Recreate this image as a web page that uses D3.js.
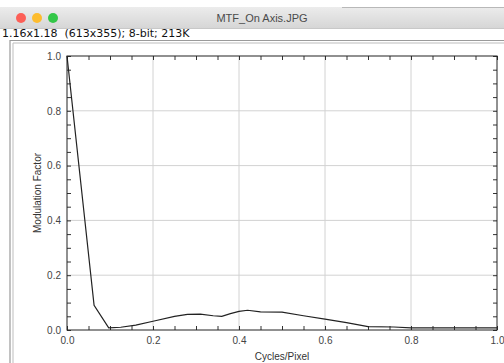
<!DOCTYPE html>
<html>
<head>
<meta charset="utf-8">
<script src="https://cdn.jsdelivr.net/npm/d3@7"></script>
<style>
  body { margin: 0; background: #fff; }
  svg { display: block; font-family: "Liberation Sans", Arial, sans-serif; }
</style>
</head>
<body>
<svg id="chart" width="504" height="363"></svg>
<script>
// MTF curve
const freq = [0, 0.063, 0.097, 0.125, 0.16, 0.2, 0.25, 0.28, 0.31, 0.34, 0.36, 0.38, 0.4, 0.42, 0.45, 0.5, 0.55, 0.6, 0.65, 0.7, 0.76, 0.8, 0.9, 1.0];
const mtf = [1.0, 0.09, 0.008, 0.01, 0.018, 0.032, 0.05, 0.057, 0.058, 0.052, 0.05, 0.06, 0.068, 0.072, 0.066, 0.065, 0.052, 0.04, 0.027, 0.012, 0.011, 0.008, 0.008, 0.008];
const majorTicks = [0, 0.2, 0.4, 0.6, 0.8, 1.0];
const gridTicks = [0.2, 0.4, 0.6, 0.8];
const minorTicks = d3.range(0, 1.0001, 0.05);
const windowTitle = "MTF_On Axis.JPG";
const infoLine = "1.16x1.18  (613x355); 8-bit; 213K";
const xTitle = "Cycles/Pixel";
const yTitle = "Modulation Factor";

const svg = d3.select("#chart");
const W = 504, H = 363;

// --- window chrome ---
const defs = svg.append("defs");
const grad = defs.append("linearGradient").attr("id", "bar").attr("x1", 0).attr("y1", 0).attr("x2", 0).attr("y2", 1);
grad.append("stop").attr("offset", "0%").attr("stop-color", "#ececec");
grad.append("stop").attr("offset", "100%").attr("stop-color", "#d6d6d6");

svg.append("rect").attr("x", 0).attr("y", 7).attr("width", W).attr("height", 21).attr("fill", "url(#bar)");
svg.append("line").attr("x1", 342).attr("x2", W).attr("y1", 7.5).attr("y2", 7.5).attr("stroke", "#b8b8b8");
svg.append("line").attr("x1", 0).attr("x2", W).attr("y1", 28.5).attr("y2", 28.5).attr("stroke", "#c8c8c8");

const lights = ["#fc5f57", "#fdbc2e", "#33c748"];
svg.selectAll("circle.light").data(lights).enter().append("circle")
    .attr("class", "light")
    .attr("cx", (d, i) => 21 + i * 16)
    .attr("cy", 18)
    .attr("r", 5)
    .attr("fill", d => d);

svg.append("text").attr("x", 262).attr("y", 22).attr("text-anchor", "middle")
    .attr("font-size", 11).attr("fill", "#4a4a4a").text(windowTitle);

svg.append("text").attr("x", 2).attr("y", 37).attr("font-size", 11)
    .attr("font-family", "DejaVu Sans, sans-serif")
    .style("white-space", "pre").attr("fill", "#111").text(infoLine);

// image frame
svg.append("path").attr("d", `M10,${H} V40.5 H${W}`).attr("fill", "none").attr("stroke", "#9a9a9a").attr("stroke-width", 1.2);
svg.append("path").attr("d", `M13,${H} V43 H${W}`).attr("fill", "none").attr("stroke", "#bdbdbd").attr("stroke-width", 1);

// --- plot ---
const pLeft = 67, pRight = 497, pTop = 56, pBottom = 330;
const x = d3.scaleLinear().domain([0, 1]).range([pLeft, pRight]);
const y = d3.scaleLinear().domain([0, 1]).range([pBottom, pTop]);

const g = svg.append("g");

// grid
g.selectAll("line.gx").data(gridTicks).enter().append("line")
    .attr("x1", d => x(d)).attr("x2", d => x(d)).attr("y1", pTop).attr("y2", pBottom)
    .attr("stroke", "#d2d2d2");
g.selectAll("line.gy").data(gridTicks).enter().append("line")
    .attr("y1", d => y(d)).attr("y2", d => y(d)).attr("x1", pLeft).attr("x2", pRight)
    .attr("stroke", "#d2d2d2");

// inward ticks on all four sides
function tickAxis(axis, transform) {
    const a = g.append("g").attr("transform", transform).call(axis);
    a.select(".domain").remove();
    a.selectAll("text").remove();
    a.selectAll("line").attr("stroke", "#333");
}
tickAxis(d3.axisBottom(x).tickValues(minorTicks).tickSize(-4), `translate(0,${pBottom})`);
tickAxis(d3.axisTop(x).tickValues(minorTicks).tickSize(-4), `translate(0,${pTop})`);
tickAxis(d3.axisLeft(y).tickValues(minorTicks).tickSize(-4), `translate(${pLeft},0)`);
tickAxis(d3.axisRight(y).tickValues(minorTicks).tickSize(-4), `translate(${pRight},0)`);

// tick labels
const fmt = d3.format(".1f");
const xl = g.append("g").attr("transform", `translate(0,${pBottom})`)
    .call(d3.axisBottom(x).tickValues(majorTicks).tickFormat(fmt).tickSize(0).tickPadding(7));
xl.select(".domain").remove();
xl.selectAll("text").attr("font-size", 10).attr("fill", "#444").attr("font-family", "Liberation Sans, Arial, sans-serif");

const yl = g.append("g").attr("transform", `translate(${pLeft},0)`)
    .call(d3.axisLeft(y).tickValues(majorTicks).tickFormat(fmt).tickSize(0).tickPadding(6));
yl.select(".domain").remove();
yl.selectAll("text").attr("font-size", 10).attr("fill", "#444").attr("font-family", "Liberation Sans, Arial, sans-serif");

// border
g.append("rect").attr("x", pLeft).attr("y", pTop).attr("width", pRight - pLeft).attr("height", pBottom - pTop)
    .attr("fill", "none").attr("stroke", "#222").attr("stroke-width", 1);

// curve
const pts = freq.map((f, i) => [f, mtf[i]]);
g.append("path").datum(pts)
    .attr("fill", "none").attr("stroke", "#222").attr("stroke-width", 1.2)
    .attr("d", d3.line().x(d => x(d[0])).y(d => y(d[1])));

// axis titles
svg.append("text").attr("x", (pLeft + pRight) / 2).attr("y", 360).attr("text-anchor", "middle")
    .attr("font-size", 10).attr("fill", "#333").text(xTitle);
svg.append("text").attr("transform", `translate(41,${(pTop + pBottom) / 2}) rotate(-90)`)
    .attr("text-anchor", "middle").attr("font-size", 10).attr("fill", "#333").text(yTitle);
</script>
</body>
</html>
